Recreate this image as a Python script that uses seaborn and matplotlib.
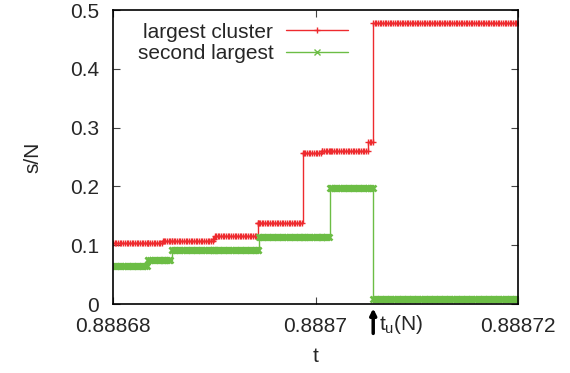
import numpy as np
import pandas as pd
import matplotlib
matplotlib.use("Agg")
import matplotlib.pyplot as plt
import seaborn as sns

# ---- data ----
t_start, t_end = 0.88868, 0.88872
red_breaks = [0.88868, 0.8886849, 0.8886899, 0.8886901, 0.8886943, 0.88869875, 0.8887006, 0.8887052, 0.8887057]
red_levels = [0.103, 0.107, 0.111, 0.115, 0.138, 0.257, 0.261, 0.276, 0.478]
green_breaks = [0.88868, 0.8886835, 0.8886858, 0.8886944, 0.8887014, 0.8887057]
green_levels = [0.065, 0.075, 0.092, 0.114, 0.198, 0.008]
tu = 0.8887057
xticks = [0.88868, 0.8887, 0.88872]
xticklabels = ["0.88868", "0.8887", "0.88872"]
yticks = [0, 0.1, 0.2, 0.3, 0.4, 0.5]
yticklabels = ["0", "0.1", "0.2", "0.3", "0.4", "0.5"]
labels = ["largest cluster", "second largest"]

# sample grid of the (step) measurements
t = np.union1d(np.linspace(t_start, t_end, 241), np.array(red_breaks + green_breaks))

def step_values(breaks, levels, tt):
    idx = np.searchsorted(np.array(breaks), tt, side="right") - 1
    return np.array(levels)[np.clip(idx, 0, len(levels) - 1)]

df_red = pd.DataFrame({"t": t, "s": step_values(red_breaks, red_levels, t)})
df_green = pd.DataFrame({"t": t, "s": step_values(green_breaks, green_levels, t)})

sns.set_style("ticks")
plt.rcParams["font.family"] = ["Liberation Sans", "DejaVu Sans"]
plt.rcParams["mathtext.fontset"] = "custom"
plt.rcParams["mathtext.rm"] = "Liberation Sans"
plt.rcParams["mathtext.it"] = "Liberation Sans"

fs = 15
fig = plt.figure(figsize=(5.7, 3.73), dpi=100)
ax = fig.add_axes([113 / 570, 1 - 304 / 373, (518 - 113) / 570, (304 - 10) / 373])

red = "#ee2a2e"
green = "#6cbd45"
sns.lineplot(data=df_red, x="t", y="s", ax=ax, color=red, lw=1.0, drawstyle="steps-post",
             marker="+", markersize=4.5, markeredgewidth=1.0, markeredgecolor=red,
             label=labels[0], estimator=None, sort=False)
sns.lineplot(data=df_green, x="t", y="s", ax=ax, color=green, lw=1.0, drawstyle="steps-post",
             marker="x", markersize=4.0, markeredgewidth=1.8, markeredgecolor=green,
             label=labels[1], estimator=None, sort=False)

ax.set_xlim(t_start, t_end)
ax.set_ylim(0, 0.5)
ax.set_xticks(xticks)
ax.set_xticklabels(xticklabels, fontsize=fs)
ax.set_yticks(yticks)
ax.set_yticklabels(yticklabels, fontsize=fs)
ax.tick_params(direction="in", length=5, width=0.8, top=True, right=True, color="#444444")
ax.tick_params(axis="x", pad=9)
ax.tick_params(axis="y", pad=10)
for sp in ax.spines.values():
    sp.set_visible(True)
    sp.set_linewidth(1.2)
    sp.set_color("black")

ax.set_xlabel("t", fontsize=fs, labelpad=8)
ax.set_ylabel("s/N", fontsize=fs, labelpad=20)

leg = ax.legend(loc="upper left", bbox_to_anchor=(0.04, 0.985), frameon=False, fontsize=fs,
                markerfirst=False, handlelength=3.0, handletextpad=0.6, labelspacing=0.1,
                borderaxespad=0)
for h in leg.legend_handles:
    h.set_markersize(4.0)
    h.set_markeredgewidth(1.0)

ax.annotate("", xy=(tu, -0.015), xytext=(tu, -0.1), xycoords=("data", "axes fraction"),
            textcoords=("data", "axes fraction"),
            arrowprops=dict(arrowstyle="-|>", lw=2.5, color="black", mutation_scale=9,
                            shrinkA=0, shrinkB=0), annotation_clip=False)
ax.text(tu + 0.0000006, -0.03, r"$\mathregular{t_u(N)}$", transform=ax.get_xaxis_transform(),
        fontsize=fs, ha="left", va="top", clip_on=False)

fig.savefig("out.png", dpi=100)
